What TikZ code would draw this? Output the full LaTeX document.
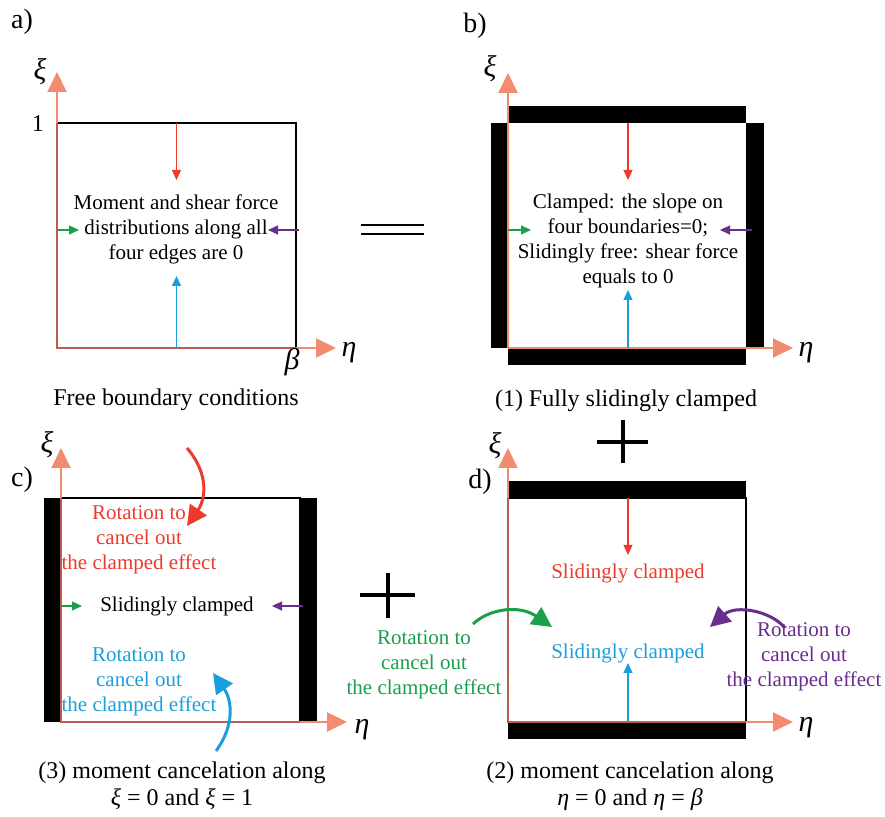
\documentclass[tikz,border=0pt]{standalone}
\usepackage{fontspec}
\setmainfont{Liberation Serif}
\usetikzlibrary{arrows.meta,positioning}
\definecolor{axisc}{RGB}{243,140,110}
\definecolor{edgec}{RGB}{185,95,80}
\definecolor{momred}{RGB}{238,58,45}
\definecolor{momgreen}{RGB}{25,160,75}
\definecolor{mompurple}{RGB}{105,45,140}
\definecolor{momblue}{RGB}{25,160,220}

\begin{document}
\begin{tikzpicture}[x=0.5pt, y=-0.5pt, >=Stealth,
    axisarrow/.style={draw=axisc, line width=1pt, -{Triangle[length=10pt,width=9.5pt]}},
    plateframe/.style={draw=black, line width=0.7pt},
    edgeline/.style={draw=edgec, line width=0.7pt},
    clampbar/.style={fill=black},
    loadarrow/.style={line width=0.6pt, -{Triangle[length=5pt,width=4.5pt]}},
    rotarrow/.style={line width=1.5pt, -{Triangle[length=10pt,width=10pt]}},
    lbl/.style={font=\fontsize{10.5}{12.5}\selectfont, align=center, inner sep=0pt},
    captext/.style={font=\fontsize{12}{13.5}\selectfont, align=center, inner sep=0pt},
    sym/.style={font=\fontsize{15}{15}\selectfont\itshape, inner sep=0pt},
    tag/.style={font=\fontsize{14}{14}\selectfont, inner sep=0pt}]
    \path[use as bounding box] (0,0) rectangle (885,817);

    % a) Free boundary conditions
    \node[tag] (taga) at (22,22) {a)};
    \begin{scope}[shift={(57,348)}]
        \coordinate (oa) at (0,0);
        \coordinate (ca) at (239,-225);
        \coordinate (xia) at (0,-276);
        \coordinate (etaa) at (279,0);
        \draw[plateframe] (oa) rectangle (ca);
        \draw[axisarrow] (oa) -- (xia);
        \draw[axisarrow] (oa) -- (etaa);
        \draw[edgeline] (oa |- ca) -- (oa) -- (oa -| ca);
        \node[sym] (xila) at (-17,-276) {ξ};
        \node[sym] (etala) at (292,5) {η};
        \node[tag, font=\fontsize{12}{12}\selectfont] (onea) at (-19,-224) {1};
        \node[sym] (betaa) at (235,14) {β};
        \node[lbl] (txta) at (119,-119) {Moment and shear force\\distributions along all\\four edges are 0};
        \node[captext] (capa) at (119,52) {Free boundary conditions};
        % edge loads
        \coordinate (ra0) at (119.5,-225); \coordinate (ra1) at (119.5,-168);
        \coordinate (ba0) at (119.5,0);    \coordinate (ba1) at (119.5,-72);
        \coordinate (ga0) at (0,-118);     \coordinate (ga1) at (22,-118);
        \coordinate (pa0) at (242,-118);   \coordinate (pa1) at (211,-118);
        \draw[loadarrow, momred] (ra0) -- (ra1);
        \draw[loadarrow, momblue] (ba0) -- (ba1);
        \draw[loadarrow, momgreen] (ga0) -- (ga1);
        \draw[loadarrow, mompurple] (pa0) -- (pa1);
    \end{scope}

    % equals sign
    \draw[line width=1.3pt] (361,225) -- (424,225);
    \draw[line width=1.3pt] (361,234) -- (424,234);

    % b) Fully slidingly clamped
    \node[tag] (tagb) at (475,26) {b)};
    \begin{scope}[shift={(508,348)}]
        \coordinate (ob) at (0,0);
        \coordinate (cb) at (238,-225);
        \coordinate (xib) at (0,-275);
        \coordinate (etab) at (285,0);
        \fill[clampbar] (0,-225) rectangle (238,-242);
        \fill[clampbar] (0,0) rectangle (238,17);
        \fill[clampbar] (-17,0) rectangle (0,-225);
        \fill[clampbar] (238,0) rectangle (256,-225);
        \draw[axisarrow] (ob) -- (xib);
        \draw[axisarrow] (ob) -- (etab);
        \node[sym] (xilb) at (-18,-279) {ξ};
        \node[sym] (etalb) at (298,5) {η};
        \node[lbl] (txtb) at (120,-107) {Clamped: the slope on\\four boundaries=0;\\Slidingly free: shear force\\equals to 0};
        \node[captext] (capb) at (118,53) {(1) Fully slidingly clamped};
        \coordinate (rb0) at (120,-225); \coordinate (rb1) at (120,-168);
        \coordinate (bb0) at (120,0);    \coordinate (bb1) at (120,-58);
        \coordinate (gb0) at (0,-118);   \coordinate (gb1) at (23,-118);
        \coordinate (pb0) at (244,-118); \coordinate (pb1) at (212,-118);
        \draw[loadarrow, momred] (rb0) -- (rb1);
        \draw[loadarrow, momblue] (bb0) -- (bb1);
        \draw[loadarrow, momgreen] (gb0) -- (gb1);
        \draw[loadarrow, mompurple] (pb0) -- (pb1);
    \end{scope}

    % plus signs
    \draw[line width=2pt] (597,442) -- (648,442);
    \draw[line width=2pt] (623,420) -- (623,463);
    \draw[line width=2pt] (360,595) -- (415,595);
    \draw[line width=2pt] (388,573) -- (388,618);

    % c) moment cancelation along xi = 0 and xi = 1
    \node[tag] (tagc) at (22,480) {c)};
    \begin{scope}[shift={(61,722)}]
        \coordinate (oc) at (0,0);
        \coordinate (cc) at (239,-224);
        \coordinate (xic) at (0,-274);
        \coordinate (etac) at (286,0);
        \draw[plateframe] (oc) rectangle (cc);
        \fill[clampbar] (-17,0) rectangle (0,-224);
        \fill[clampbar] (239,0) rectangle (256,-224);
        \draw[axisarrow] (oc) -- (xic);
        \draw[axisarrow] (oc) -- (etac);
        \draw[edgeline] (oc |- cc) -- (oc) -- (oc -| cc);
        \node[sym] (xilc) at (-14,-277) {ξ};
        \node[sym] (etalc) at (301,8) {η};
        \node[lbl, text=momred] (rtxtc) at (78,-182) {Rotation to\\cancel out\\the clamped effect};
        \node[lbl] (txtc) at (116,-116) {Slidingly clamped};
        \node[lbl, text=momblue] (btxtc) at (78,-40) {Rotation to\\cancel out\\the clamped effect};
        \node[captext] (capc) at (121,64) {(3) moment cancelation along\\\textit{ξ} = 0 and \textit{ξ} = 1};
        \coordinate (gc0) at (0,-116);   \coordinate (gc1) at (21,-116);
        \coordinate (pc0) at (242,-116); \coordinate (pc1) at (211,-116);
        \draw[loadarrow, momgreen] (gc0) -- (gc1);
        \draw[loadarrow, mompurple] (pc0) -- (pc1);
        % rotations
        \coordinate (rc0) at (126,-274); \coordinate (rc1) at (126,-196);
        \coordinate (bc0) at (155,29);   \coordinate (bc1) at (152,-49);
        \draw[rotarrow, momred] (rc0) .. controls (149,-247) and (144,-222) .. (rc1);
        \draw[rotarrow, momblue] (bc0) .. controls (174,3) and (171,-22) .. (bc1);
    \end{scope}

    % d) moment cancelation along eta = 0 and eta = beta
    \node[tag] (tagd) at (480,482) {d)};
    \begin{scope}[shift={(508,722)}]
        \coordinate (od) at (0,0);
        \coordinate (cd) at (238,-224);
        \coordinate (xid) at (0,-274);
        \coordinate (etad) at (285,0);
        \draw[plateframe] (od) rectangle (cd);
        \fill[clampbar] (0,-224) rectangle (238,-241);
        \fill[clampbar] (0,0) rectangle (238,17);
        \draw[axisarrow] (od) -- (xid);
        \draw[axisarrow] (od) -- (etad);
        \draw[edgeline] (od |- cd) -- (od) -- (od -| cd);
        \node[sym] (xild) at (-13,-276) {ξ};
        \node[sym] (etald) at (298,6) {η};
        \node[lbl, text=momred] (rtxtd) at (120,-149) {Slidingly clamped};
        \node[lbl, text=momblue] (btxtd) at (120,-69) {Slidingly clamped};
        \node[lbl, text=momgreen] (gtxtd) at (-84,-57) {Rotation to\\cancel out\\the clamped effect};
        \node[lbl, text=mompurple] (ptxtd) at (296,-65) {Rotation to\\cancel out\\the clamped effect};
        \node[captext] (capd) at (122,64) {(2) moment cancelation along\\\textit{η} = 0 and \textit{η} = \textit{β}};
        \coordinate (rd0) at (120,-224); \coordinate (rd1) at (120,-167);
        \coordinate (bd0) at (120,0);    \coordinate (bd1) at (120,-59);
        \draw[loadarrow, momred] (rd0) -- (rd1);
        \draw[loadarrow, momblue] (bd0) -- (bd1);
        % rotations
        \coordinate (gd0) at (-35,-98); \coordinate (gd1) at (44,-95);
        \coordinate (pd0) at (277,-94); \coordinate (pd1) at (202,-95);
        \draw[rotarrow, momgreen] (gd0) .. controls (-18,-114) and (12,-117) .. (gd1);
        \draw[rotarrow, mompurple] (pd0) .. controls (262,-112) and (227,-117) .. (pd1);
    \end{scope}
\end{tikzpicture}
\end{document}
